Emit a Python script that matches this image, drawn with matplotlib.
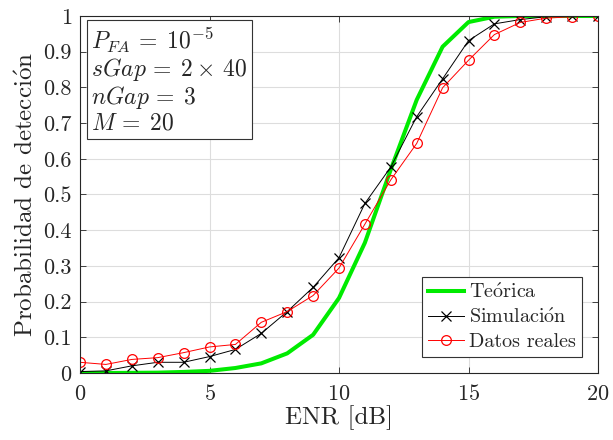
import matplotlib
matplotlib.use('Agg')
import matplotlib.pyplot as plt
import numpy as np

# ENR en dB
enr = list(range(0, 21))

# curva teorica
p_teorica = [0.0, 0.0, 0.0005, 0.001, 0.003, 0.006, 0.014, 0.027, 0.055, 0.107, 0.210,
             0.365, 0.570, 0.765, 0.914, 0.983, 0.998, 1.0, 1.0, 1.0, 1.0]
# simulacion
p_simulacion = [0.004, 0.006, 0.020, 0.030, 0.030, 0.046, 0.066, 0.111, 0.172, 0.240, 0.323,
                0.475, 0.577, 0.718, 0.824, 0.931, 0.978, 0.990, 0.998, 1.0, 1.0]
# datos reales
p_reales = [0.030, 0.024, 0.038, 0.043, 0.057, 0.073, 0.080, 0.142, 0.172, 0.217, 0.294,
            0.417, 0.541, 0.643, 0.799, 0.876, 0.948, 0.982, 0.994, 0.998, 1.0]

plt.rcParams['font.family'] = ['cmr10', 'DejaVu Serif']
plt.rcParams['mathtext.fontset'] = 'cm'
plt.rcParams['axes.formatter.use_mathtext'] = True
plt.rcParams['text.color'] = '#262626'
plt.rcParams['axes.labelcolor'] = '#262626'
plt.rcParams['xtick.color'] = '#262626'
plt.rcParams['ytick.color'] = '#262626'

fig = plt.figure(figsize=(6.13, 4.4), dpi=100)
ax = fig.add_axes([80 / 613, 1 - 373 / 440, 518 / 613, 357 / 440])

ax.plot(enr, p_teorica, color=(0, 0.92, 0), lw=2.9, label=r'Te$\mathrm{\acute{o}}$rica')
ax.plot(enr, p_simulacion, color='k', lw=0.7, marker='x', ms=7, mew=0.9,
        label=r'Simulaci$\mathrm{\acute{o}}$n')
ax.plot(enr, p_reales, color='r', lw=0.7, marker='o', ms=7, mfc='none', mew=0.9,
        label='Datos reales')

ax.set_xlim(0, 20)
ax.set_ylim(0, 1)
ax.set_xticks([0, 5, 10, 15, 20])
ax.set_yticks(np.arange(0, 1.01, 0.1))
ax.set_yticklabels(['0', '0.1', '0.2', '0.3', '0.4', '0.5', '0.6', '0.7', '0.8', '0.9', '1'])
ax.tick_params(direction='in', top=True, right=True, labelsize=16, length=4, width=0.6,
               pad=6)
ax.tick_params(axis='x', pad=8)
ax.grid(True, color='#dddddd', lw=0.8)
ax.set_axisbelow(True)
for s in ax.spines.values():
    s.set_linewidth(0.8)
    s.set_color('#262626')

ax.set_xlabel('ENR [dB]', fontsize=18, labelpad=1)
ax.set_ylabel(r'Probabilidad de detecci$\mathrm{\acute{o}}$n', fontsize=18, labelpad=4)

txt = ('$P_{FA} \\,=\\; 10^{-5}$\n$sGap \\,=\\; 2 \\times\\, 40$\n'
       '$nGap \\,=\\; 3$\n$M \\,=\\; 20$')
ax.text(0.022, 0.972, txt, transform=ax.transAxes, va='top', ha='left', fontsize=17,
        linespacing=1.05,
        bbox=dict(boxstyle='square,pad=0.2', fc='white', ec='#333333', lw=0.8))

leg = ax.legend(loc='lower right', fontsize=14.5, frameon=True, fancybox=False,
                edgecolor='#333333', framealpha=1, borderpad=0.3, labelspacing=0.28,
                handlelength=1.8, handletextpad=0.25, borderaxespad=0.8)
leg.get_frame().set_linewidth(0.8)

fig.savefig('out.png', dpi=100)
